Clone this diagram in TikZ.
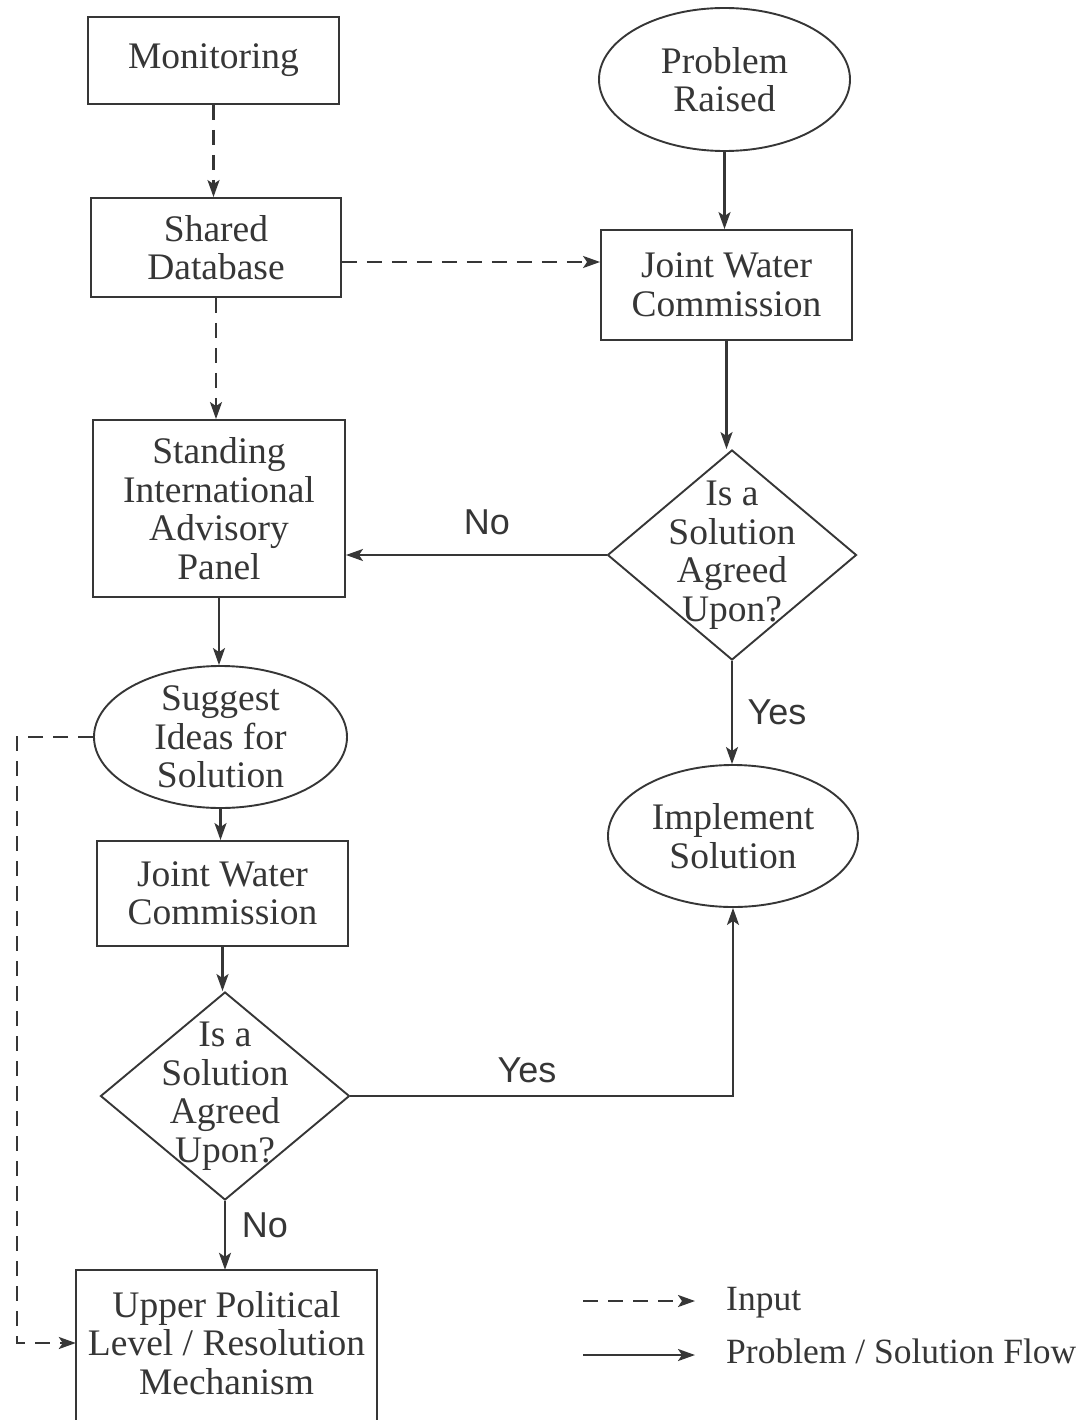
\documentclass[tikz,border=0pt]{standalone}
\usepackage{fontspec}
\setmainfont{Liberation Serif}
\newfontfamily\flowlabelfont{Liberation Sans}
\usetikzlibrary{shapes.geometric,arrows.meta}
\definecolor{ink}{HTML}{363636}
\begin{document}
\begin{tikzpicture}[x=1pt,y=-1pt,
  every node/.style={text=ink},
  txt/.style={align=center, text=ink, inner sep=0pt, font=\fontsize{37.5}{38.5}\selectfont},
  base/.style={txt, draw=ink, line width=1.9pt},
  box/.style={base, rectangle},
  oval/.style={base, ellipse},
  choice/.style={base, diamond},
  inside/.style={label={[txt]center:#1}},
  flow/.style={draw=ink, line width=2.3pt, -{Stealth[length=17pt,width=12pt,inset=4pt]}},
  input/.style={flow, dash pattern=on 15pt off 10pt},
  lbl/.style={font=\flowlabelfont\fontsize{36}{40}\selectfont},
  legendtext/.style={font=\fontsize{35.5}{40}\selectfont, anchor=base west, inner sep=0pt}]

\useasboundingbox (0,0) rectangle (1091,1420);
\clip (0,0) rectangle (1091,1420);

% left column
\node[box, minimum width=251pt, minimum height=87pt] (mon) at (213.5,60.5) {Monitoring};
\node[box, minimum width=250pt, minimum height=99pt] (sdb) at (216,247.5) {Shared\\Database};
\node[box, minimum width=252pt, minimum height=177pt] (sia) at (219,508.5) {Standing\\International\\Advisory\\Panel};
\node[oval, minimum width=253pt, minimum height=142pt, inside={Suggest\\Ideas for\\Solution}] (sug) at (220.5,737) {};
\node[box, minimum width=251pt, minimum height=105pt] (jwcB) at (222.5,893.5) {Joint Water\\Commission};
\node[choice, minimum width=249pt, minimum height=208pt, inside={Is a\\Solution\\Agreed\\Upon?}] (qB) at (225,1096) {};
\node[txt, minimum width=301pt, minimum height=146pt] (upp) at (226.5,1343) {Upper Political\\Level / Resolution\\Mechanism};
\draw[ink, line width=1.9pt] ([yshift=-20pt]upp.south west) -- (upp.north west) -- (upp.north east) -- ([yshift=-20pt]upp.south east);

% right column
\node[oval, minimum width=251pt, minimum height=143pt] (pr) at (724.5,79.5) {Problem\\Raised};
\node[box, minimum width=251pt, minimum height=110pt] (jwcA) at (726.5,285) {Joint Water\\Commission};
\node[choice, minimum width=249pt, minimum height=210pt, inside={Is a\\Solution\\Agreed\\Upon?}] (qA) at (732,555) {};
\node[oval, minimum width=250pt, minimum height=142pt] (ie) at (733,836) {Implement\\Solution};

% input connectors
\draw[input] (mon.south) -- (mon.south |- sdb.north);
\draw[input] (sdb.south) -- (sdb.south |- sia.north);
\draw[input] ([yshift=-14.5pt]sdb.east) -- ([yshift=-14.5pt]sdb.east -| jwcA.west);
\draw[input] (sug.west) -- ++(-76,0) |- (upp.west);

% problem / solution flow
\draw[flow] (pr.south) -- (pr.south |- jwcA.north);
\draw[flow] (jwcA.south) -- (jwcA.south |- qA.north);
\draw[flow] (qA.west) -- (qA.west -| sia.east);
\draw[flow] (qA.south) -- (qA.south |- ie.north);
\draw[flow] (sia.south) -- (sia.south |- sug.north);
\draw[flow] (sug.south) -- (sug.south |- jwcB.north);
\draw[flow] (jwcB.south) -- (jwcB.south |- qB.north);
\draw[flow] (qB.south) -- (qB.south |- upp.north);
\draw[flow] (qB.east) -| (ie.south);

% decision labels
\node[lbl] (noA) at (487,522) {No};
\node[lbl] (yesA) at (777,712) {Yes};
\node[lbl] (yesB) at (527,1070) {Yes};
\node[lbl] (noB) at (265,1225) {No};

% legend
\coordinate (inA) at (583,1301);
\coordinate (inB) at (695,1301);
\draw[input] (inA) -- (inB);
\node[legendtext] (inT) at (726,1310) {Input};
\coordinate (flA) at (583,1355);
\coordinate (flB) at (695,1355);
\draw[flow] (flA) -- (flB);
\node[legendtext] (flT) at (726,1363) {Problem / Solution Flow};
\end{tikzpicture}
\end{document}
